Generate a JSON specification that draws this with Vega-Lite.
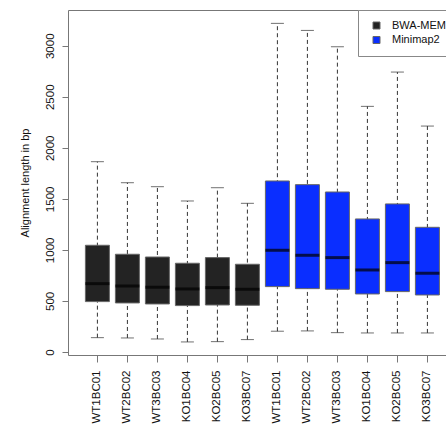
{
  "$schema": "https://vega.github.io/schema/vega-lite/v6.json",
  "width": 378,
  "height": 345,
  "autosize": {"type": "none"},
  "padding": {"left": 68, "top": 10, "right": 0, "bottom": 70},
  "background": "white",
  "config": {
    "view": {"stroke": null},
    "font": "Liberation Sans",
    "axis": {"domainColor": "#777777", "tickColor": "#777777", "labelColor": "#111111", "titleColor": "#111111", "labelFont": "Liberation Sans", "titleFont": "Liberation Sans", "grid": false}
  },
  "data": {
    "values": [
      {"id": "BWA-MEM WT1BC01", "aligner": "BWA-MEM", "lower": 140, "q1": 493, "median": 669, "q3": 1045, "upper": 1864},
      {"id": "BWA-MEM WT2BC02", "aligner": "BWA-MEM", "lower": 137, "q1": 480, "median": 646, "q3": 957, "upper": 1658},
      {"id": "BWA-MEM WT3BC03", "aligner": "BWA-MEM", "lower": 127, "q1": 470, "median": 634, "q3": 930, "upper": 1619},
      {"id": "BWA-MEM KO1BC04", "aligner": "BWA-MEM", "lower": 98, "q1": 454, "median": 617, "q3": 869, "upper": 1479},
      {"id": "BWA-MEM KO2BC05", "aligner": "BWA-MEM", "lower": 101, "q1": 460, "median": 630, "q3": 924, "upper": 1609},
      {"id": "BWA-MEM KO3BC07", "aligner": "BWA-MEM", "lower": 121, "q1": 457, "median": 614, "q3": 859, "upper": 1456},
      {"id": "Minimap2 WT1BC01", "aligner": "Minimap2", "lower": 203, "q1": 640, "median": 996, "q3": 1675, "upper": 3219},
      {"id": "Minimap2 WT2BC02", "aligner": "Minimap2", "lower": 206, "q1": 620, "median": 947, "q3": 1639, "upper": 3150},
      {"id": "Minimap2 WT3BC03", "aligner": "Minimap2", "lower": 189, "q1": 614, "median": 924, "q3": 1567, "upper": 2990},
      {"id": "Minimap2 KO1BC04", "aligner": "Minimap2", "lower": 186, "q1": 568, "median": 803, "q3": 1303, "upper": 2406},
      {"id": "Minimap2 KO2BC05", "aligner": "Minimap2", "lower": 186, "q1": 591, "median": 875, "q3": 1450, "upper": 2742},
      {"id": "Minimap2 KO3BC07", "aligner": "Minimap2", "lower": 186, "q1": 558, "median": 771, "q3": 1221, "upper": 2213}
    ]
  },
  "resolve": {"axis": {"x": "independent", "y": "independent"}},
  "layer": [
    {
      "mark": {"type": "rule", "strokeDash": [4, 3], "color": "#333333", "strokeWidth": 1},
      "encoding": {
        "x": {"field": "id", "type": "nominal", "sort": null,
          "scale": {"paddingInner": 0, "paddingOuter": 0.3, "align": 0.8},
          "axis": {"orient": "top", "labels": false, "ticks": false, "title": null, "domain": true}},
        "y": {"field": "lower", "type": "quantitative", "scale": {"domain": [-30, 3350], "nice": false, "zero": false},
          "axis": {"orient": "left", "values": [0, 500, 1000, 1500, 2000, 2500, 3000], "format": "d", "title": "Alignment length in bp",
            "titleFontSize": 11, "titleFontWeight": "normal", "titlePadding": 14,
            "labelAngle": -90, "labelAlign": "center", "labelBaseline": "bottom", "labelFontSize": 11.5, "labelPadding": 7,
            "tickSize": 6, "domain": true}},
        "y2": {"field": "upper"}
      }
    },
    {
      "mark": {"type": "tick", "color": "#333333", "thickness": 1, "size": 13},
      "encoding": {
        "x": {"field": "id", "type": "nominal", "sort": null, "axis": null},
        "y": {"field": "upper", "type": "quantitative", "axis": null}
      }
    },
    {
      "mark": {"type": "tick", "color": "#333333", "thickness": 1, "size": 13},
      "encoding": {
        "x": {"field": "id", "type": "nominal", "sort": null, "axis": null},
        "y": {"field": "lower", "type": "quantitative", "axis": null}
      }
    },
    {
      "mark": {"type": "bar", "size": 24, "stroke": "#666666", "strokeWidth": 1},
      "encoding": {
        "x": {"field": "id", "type": "nominal", "sort": null,
          "axis": {"orient": "bottom", "title": null, "labelExpr": "split(datum.label, ' ')[1]", "labelAngle": -90,
            "labelAlign": "right", "labelBaseline": "middle", "labelFontSize": 11.5, "labelPadding": 8, "tickSize": 7, "domain": true}},
        "y": {"field": "q1", "type": "quantitative", "axis": null},
        "y2": {"field": "q3"},
        "color": {"field": "aligner", "type": "nominal",
          "scale": {"domain": ["BWA-MEM", "Minimap2"], "range": ["#232323", "#0a2eff"]},
          "legend": {"title": null, "orient": "none", "legendX": 290, "legendY": 0, "symbolType": "square", "symbolSize": 49,
            "symbolStrokeColor": "#666666", "symbolStrokeWidth": 1, "symbolOffset": 3, "labelFontSize": 11, "labelOffset": 10,
            "labelColor": "#111111", "padding": 10, "rowPadding": 2.5, "strokeColor": "#888888", "fillColor": "white", "cornerRadius": 0}}
      }
    },
    {
      "mark": {"type": "tick", "color": "#000000", "thickness": 3, "size": 24},
      "encoding": {
        "x": {"field": "id", "type": "nominal", "sort": null, "axis": null},
        "y": {"field": "median", "type": "quantitative", "axis": null}
      }
    }
  ]
}
